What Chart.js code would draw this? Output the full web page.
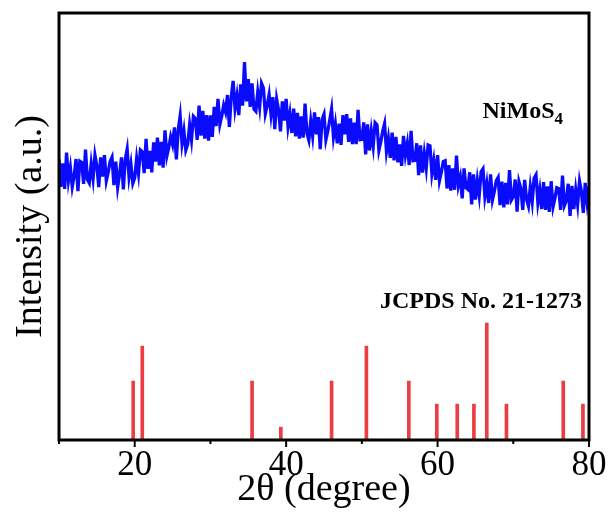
<!DOCTYPE html>
<html>
<head>
<meta charset="utf-8">
<script src="https://cdn.jsdelivr.net/npm/chart.js@4.4.1/dist/chart.umd.min.js"></script>
<style>
html,body{margin:0;padding:0;background:#fff;}
canvas{display:block;}
</style>
</head>
<body>
<canvas id="c" width="611" height="524"></canvas>
<script>
// ---- data ----
const xStart = 10;      // 2θ start of scan (degree)
const xStep = 0.25;     // scan step (degree)
const intensity = [
65.8,59.3,64.8,58.8, 67.3,60.8,63.8,59.3, 61.8,65.8,58.3,65.3, 65.0,60.0,68.0,61.0,
60.2,64.7,61.2,66.7, 64.2,59.2,66.2,61.7, 66.7,60.7,62.7,65.2, 66.2,59.7,65.2,59.2,
62.2,66.2,58.7,65.7, 68.1,61.6,64.6,60.1, 61.4,65.9,62.4,67.9, 67.5,62.5,70.5,63.5,
67.7,62.7,69.7,65.2, 70.8,64.3,69.8,63.8, 72.5,66.5,68.5,71.0, 69.2,73.2,65.7,72.7,
75.9,69.4,72.4,67.9, 69.3,73.8,70.3,75.8, 75.3,70.3,78.3,71.3, 77.1,70.6,76.1,70.1,
76.0,71.0,78.0,73.5, 79.9,73.9,75.9,78.4, 76.8,80.8,73.3,80.3, 84.1,77.6,80.6,76.1,
83.3,78.3,88.5,79.3, 84.5,78.0,83.5,77.5, 77.0,81.5,78.0,83.5, 82.4,76.4,78.4,80.9,
76.3,80.3,72.8,79.8, 77.3,72.3,79.3,74.8, 79.9,73.4,76.4,71.9, 77.6,71.1,76.6,70.6,
75.8,70.8,78.8,71.8, 70.2,74.7,71.2,76.7, 71.6,75.6,68.1,75.1, 76.3,70.3,72.3,74.8,
77.5,71.0,74.0,69.5, 74.1,69.1,76.1,71.6, 76.3,69.8,75.3,69.3, 74.3,69.3,77.3,70.3,
70.4,74.4,66.9,73.9, 67.8,72.3,68.8,74.3, 73.8,67.8,69.8,72.3, 74.1,67.6,70.6,66.1,
72.0,65.5,71.0,65.0, 69.2,64.2,71.2,66.7, 69.4,64.4,72.4,65.4, 65.5,69.5,62.0,69.0,
62.6,67.1,63.6,69.1, 68.9,62.4,65.4,60.9, 66.7,60.7,62.7,65.2, 65.4,58.9,64.4,58.4,
63.6,58.6,66.6,59.6, 61.6,56.6,63.6,59.1, 58.7,62.7,55.2,62.2, 56.3,60.8,57.3,62.8,
63.5,57.0,60.0,55.5, 62.2,56.2,58.2,60.7, 61.5,55.0,60.5,54.5, 60.2,55.2,63.2,56.2,
57.0,61.0,53.5,60.5, 58.9,53.9,60.9,56.4, 54.8,59.3,55.8,61.3, 62.1,55.6,58.6,54.1,
60.4,53.9,59.4,53.4, 60.6,54.6,56.6,59.1, 58.9,53.9,61.9,54.9, 56.0,60.0,52.5,59.5,
54.1,58.6,55.1,60.6, 58.2,53.2,60.2,55.7, 59.4
];
const refPositions = [19.8, 21.0, 35.5, 39.3, 46.0, 50.6, 56.2, 59.9, 62.6, 64.8, 66.5, 69.1, 76.6, 79.2];
const refIntensity = [13.8, 22.0, 13.8, 3.0, 13.8, 22.0, 13.8, 8.4, 8.4, 8.4, 27.4, 8.4, 13.8, 8.4];
const xTickLabels = [20, 40, 60, 80];
const sampleLabel = 'NiMoS';
const sampleSub = '4';
const refLabel = 'JCPDS No. 21-1273';

// ---- build ----
const scanData = intensity.map((v, i) => ({x: xStart + i * xStep, y: v}));
const stickData = refPositions.map((p, i) => ({x: p, y: refIntensity[i]}));
const serif = '"Liberation Serif", "Times New Roman", serif';

const frame = {
  id: 'frame',
  afterDraw(chart) {
    const {ctx, chartArea: a, scales} = chart;
    ctx.save();
    ctx.strokeStyle = '#000';
    ctx.lineWidth = 3;
    ctx.strokeRect(a.left, a.top, a.right - a.left, a.bottom - a.top);
    ctx.lineWidth = 2;
    for (let v = 10; v <= 80; v += 10) {
      const px = scales.x.getPixelForValue(v);
      const len = xTickLabels.includes(v) ? 7 : 4;
      ctx.beginPath();
      ctx.moveTo(px, a.bottom);
      ctx.lineTo(px, a.bottom + len);
      ctx.stroke();
    }
    ctx.fillStyle = '#000';
    ctx.textBaseline = 'alphabetic';
    const mainFont = 'bold 24px ' + serif;
    const subFont = 'bold 17px ' + serif;
    ctx.font = subFont;
    const wSub = ctx.measureText(sampleSub).width;
    ctx.font = mainFont;
    const wMain = ctx.measureText(sampleLabel).width;
    const rightEdge = a.right - 26;
    const base1 = 118;
    ctx.textAlign = 'left';
    ctx.fillText(sampleLabel, rightEdge - wSub - wMain, base1);
    ctx.font = subFont;
    ctx.fillText(sampleSub, rightEdge - wSub, base1 + 6);
    ctx.font = mainFont;
    ctx.textAlign = 'right';
    ctx.fillText(refLabel, a.right - 7, 308);
    ctx.restore();
  }
};

new Chart(document.getElementById('c'), {
  type: 'line',
  data: {
    datasets: [
      {
        type: 'line',
        data: scanData,
        borderColor: '#0a0aff',
        borderWidth: 3.3,
        pointRadius: 0,
        tension: 0,
        fill: false,
        order: 1
      },
      {
        type: 'bar',
        data: stickData,
        backgroundColor: '#ec3c44',
        borderWidth: 0,
        barThickness: 3,
        order: 2
      }
    ]
  },
  options: {
    responsive: false,
    animation: false,
    devicePixelRatio: 1,
    layout: {padding: {top: 13, right: 22, left: 0, bottom: 0}},
    plugins: {legend: {display: false}, tooltip: {enabled: false}},
    scales: {
      x: {
        type: 'linear',
        min: 10, max: 80,
        offset: false,
        grid: {display: false, drawTicks: false},
        border: {display: false},
        ticks: {
          stepSize: 10,
          autoSkip: false,
          maxRotation: 0,
          padding: 5,
          color: '#000',
          font: {family: serif, size: 35},
          callback: (v) => xTickLabels.includes(v) ? String(v) : ''
        },
        title: {
          display: true,
          text: '2θ (degree)',
          color: '#000',
          font: {family: serif, size: 38},
          padding: {top: 0, bottom: 11}
        },
        afterFit: (s) => { s.height = 84; s.paddingLeft = 0; s.paddingRight = 0; }
      },
      y: {
        min: 0, max: 100,
        grid: {display: false, drawTicks: false},
        border: {display: false},
        ticks: {display: false},
        title: {
          display: true,
          text: 'Intensity (a.u.)',
          color: '#000',
          font: {family: serif, size: 38},
          padding: {top: 8, bottom: 0}
        },
        afterFit: (s) => { s.width = 59; }
      }
    }
  },
  plugins: [frame]
});
</script>
</body>
</html>
